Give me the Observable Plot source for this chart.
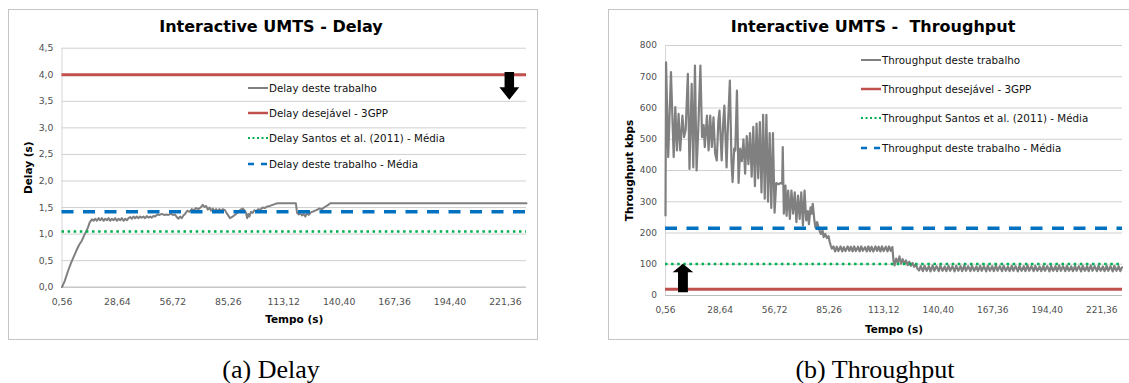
<!DOCTYPE html>
<html><head><meta charset="utf-8">
<script src="https://cdn.jsdelivr.net/npm/d3@7"></script>
<script src="https://cdn.jsdelivr.net/npm/@observablehq/plot@0.6"></script>
<style>
html,body{margin:0;padding:0;background:#fff}
body{width:1129px;height:383px;position:relative;overflow:hidden;font-family:"DejaVu Sans",Verdana,sans-serif}
.box{position:absolute;border:1px solid #c4c4c4;box-sizing:border-box;background:#fff}
.chart{position:absolute}
.title{position:absolute;font-weight:bold;font-size:16px;color:#000;white-space:pre;transform:translate(-50%,-50%)}
.caption{position:absolute;font-family:"Liberation Serif","Times New Roman",serif;font-size:26px;color:#000;white-space:pre;transform:translate(-50%,-50%)}
.lg{position:absolute;display:flex;align-items:center;height:14px;font-size:10.3px;color:#111;white-space:pre}
.lg svg{display:block}
</style>
</head><body>
<script>
// ---------- data ----------
const xTickCats = [0, 100, 200, 300, 400, 500, 600, 700, 800];
const xTickLabels = ["0,56", "28,64", "56,72", "85,26", "113,12", "140,40", "167,36", "194,40", "221,36"];
const delayTicks = [0, 0.5, 1, 1.5, 2, 2.5, 3, 3.5, 4, 4.5];
const throughputTicks = [0, 100, 200, 300, 400, 500, 600, 700, 800];

// Delay deste trabalho: [category index, delay (s)]
const delaySeries = [[0,0],[5,0.12],[11,0.31],[16,0.45],[21,0.57],[26,0.69],[31,0.80],[36,0.88],[41,1.00],[46,1.10],[50,1.22],[54,1.28],[57,1.25],[60,1.29],[63,1.25],[66,1.30],[69,1.26],[72,1.30],[75,1.25],[78,1.29],[81,1.26],[84,1.30],[87,1.25],[90,1.29],[93,1.26],[96,1.30],[99,1.25],[102,1.29],[105,1.26],[108,1.30],[111,1.25],[114,1.29],[117,1.26],[120,1.30],[123,1.32],[126,1.29],[129,1.33],[132,1.30],[135,1.33],[138,1.30],[141,1.33],[144,1.31],[147,1.33],[150,1.30],[153,1.34],[156,1.31],[159,1.33],[162,1.31],[165,1.34],[168,1.33],[172,1.37],[176,1.36],[180,1.38],[184,1.36],[188,1.37],[192,1.36],[196,1.38],[200,1.36],[204,1.37],[207,1.32],[210,1.29],[213,1.33],[216,1.30],[219,1.35],[222,1.38],[226,1.44],[230,1.42],[234,1.47],[238,1.45],[242,1.49],[246,1.47],[250,1.50],[254,1.55],[257,1.51],[260,1.53],[263,1.46],[266,1.50],[269,1.44],[272,1.48],[275,1.43],[278,1.47],[281,1.43],[284,1.47],[287,1.44],[290,1.47],[294,1.45],[298,1.38],[303,1.30],[308,1.33],[313,1.37],[318,1.42],[322,1.46],[326,1.48],[329,1.45],[332,1.40],[334,1.30],[336,1.38],[338,1.33],[341,1.42],[344,1.40],[347,1.45],[350,1.43],[354,1.47],[358,1.46],[362,1.50],[366,1.49],[370,1.52],[375,1.53],[380,1.55],[385,1.57],[390,1.58],[422,1.58],[424,1.40],[427,1.37],[430,1.39],[433,1.35],[436,1.38],[439,1.33],[442,1.40],[445,1.36],[449,1.41],[454,1.43],[459,1.45],[464,1.48],[469,1.47],[474,1.51],[479,1.54],[484,1.58],[838,1.58]];
const delay3GPP = 4.0;
const delaySantosMean = 1.05;
const delayThisMean = 1.42;

// Throughput deste trabalho: [category index, kbps]
const throughputSeries = [[0,256],[1,746],[5,443],[10,715],[15,443],[18,603],[21,464],[24,581],[27,464],[31,576],[34,507],[37,530],[41,709],[44,405],[48,677],[51,410],[54,736],[57,400],[60,528],[64,736],[67,507],[70,545],[72,475],[76,576],[79,464],[82,576],[85,475],[88,570],[91,455],[94,432],[97,560],[99,592],[103,432],[106,560],[108,608],[112,410],[114,520],[118,688],[121,430],[123,363],[126,470],[128,464],[131,656],[134,360],[137,470],[140,430],[143,500],[146,390],[149,510],[152,420],[155,520],[158,380],[161,540],[164,350],[167,550],[170,375],[173,555],[176,330],[179,578],[182,310],[185,578],[188,300],[191,520],[194,280],[197,520],[200,265],[203,360],[207,356],[211,360],[214,358],[215,475],[217,262],
[220,352],[222,255],[225,336],[228,245],[231,336],[234,262],[237,330],[240,235],[243,320],[246,245],[249,330],[252,224],[255,336],[258,240],[261,270],[263,228],[266,282],[268,262],[270,293],[273,240],[275,217],[278,235],[280,222],[283,205],[285,197],[288,208],[290,187],[293,197],[296,184],[299,190],[301,172],[303,160],[305,150],
[308,157],[311,141],[314,156],[317,142],[321,157],[324,141],[327,155],[330,142],[334,157],[337,143],[340,156],[343,141],[346,157],[349,142],[353,156],[356,141],[359,157],[362,143],[366,155],[369,141],[372,157],[375,142],[378,156],[381,141],[385,157],[388,143],[391,156],[394,141],[397,157],[400,142],[404,156],[407,141],[410,157],[413,143],[416,155],
[418,112],[420,96],[423,118],[426,105],[429,125],[432,102],[435,116],[438,101],[441,112],[444,97],[447,108],[450,95],[453,104],[456,92],[459,100],[462,86],[465,80],
[468,94],[472,78],[475,95],[479,79],[483,94],[486,77],[490,96],[493,79],[497,94],[501,78],[504,95],[508,79],[512,93],[515,78],[519,95],[522,79],[526,94],[530,77],[533,95],[537,79],[541,94],[544,78],[548,96],[551,79],[555,94],[559,78],[562,95],[566,79],[570,93],[573,78],[577,95],[580,79],[584,94],[588,77],[591,95],[595,79],[599,94],[602,78],[606,96],[609,79],[613,94],[617,78],[620,95],[624,79],[628,93],[631,78],[635,95],[638,79],[642,94],[646,77],[649,95],[653,79],[657,94],[660,78],[664,96],[667,79],[671,94],[675,78],[678,95],[682,79],[686,93],[689,78],[693,95],[696,79],[700,94],[704,77],[707,95],[711,79],[715,94],[718,78],[722,96],[725,79],[729,94],[733,78],[736,95],[740,79],[744,93],[747,78],[751,95],[754,79],[758,94],[762,77],[765,95],[769,79],[773,94],[776,78],[780,96],[783,79],[787,94],[791,78],[794,95],[798,79],[802,93],[805,78],[809,95],[812,79],[816,94],[820,77],[823,95],[827,79],[831,94],[834,78],[837,90]];
const throughput3GPP = 20;
const throughputSantosMean = 101;
const throughputThisMean = 215;

// annotation arrows: [category index, value]
const delayArrow = [[807, 3.79]];
const throughputArrow = [[32, 56]];

const delayLegend = ["Delay deste trabalho", "Delay desejável - 3GPP", "Delay Santos et al. (2011) - Média", "Delay deste trabalho - Média"];
const throughputLegend = ["Throughput deste trabalho", "Throughput desejável - 3GPP", "Throughput Santos et al. (2011) - Média", "Throughput deste trabalho - Média"];

// ---------- styles ----------
const C = {gray: "#808080", red: "#c0504d", green: "#00b050", blue: "#0070c0", grid: "#d0d0d0", tick: "#505050"};
const labelOf = new Map(xTickCats.map((c, i) => [c, xTickLabels[i]]));

function arrowSymbol(dir) {
  // block arrow; dir = 1 points down, -1 points up
  return {draw(ctx, size) {
    const r = Math.sqrt(size / Math.PI);
    const headStart = dir === 1 ? 0.09 : 0.41;
    const sw = 0.345 * r, hw = 0.72 * r;
    const hy = dir === 1 ? headStart * r : -headStart * r;
    const tail = -r * dir, tip = r * dir;
    ctx.moveTo(-sw, tail);
    ctx.lineTo(sw, tail);
    ctx.lineTo(sw, hy);
    ctx.lineTo(hw, hy);
    ctx.lineTo(0, tip);
    ctx.lineTo(-hw, hy);
    ctx.lineTo(-sw, hy);
    ctx.closePath();
  }};
}

function panel(o) {
  const box = document.createElement("div");
  box.className = "box";
  Object.assign(box.style, {left: o.box[0] + "px", top: o.box[1] + "px", width: o.box[2] + "px", height: o.box[3] + "px"});
  document.body.appendChild(box);

  const chart = Plot.plot({
    width: o.box[2], height: o.box[3],
    marginLeft: o.m[0], marginRight: o.m[1], marginTop: o.m[2], marginBottom: o.m[3],
    style: {background: "transparent", overflow: "visible", fontFamily: "DejaVu Sans, Verdana, sans-serif"},
    x: {domain: [0, 838]},
    y: {domain: o.yDomain},
    marks: [
      Plot.gridY(o.yTicks, {stroke: C.grid, strokeOpacity: 1, strokeWidth: 1}),
      Plot.ruleX([0], {stroke: "#d6d6d6", strokeWidth: 1}),
      Plot.ruleY([0], {stroke: "#bdbdbd", strokeWidth: 1}),
      Plot.axisY({ticks: o.yTicks, tickFormat: o.yFormat, tickSize: 0, tickPadding: 8.5, fontSize: o.tickFont, color: C.tick, label: null}),
      Plot.axisY({ticks: [], label: o.yLabel, labelAnchor: "center", labelArrow: "none", labelOffset: o.yLabelOffset, fontSize: 10.5, fontWeight: "bold", color: "#000"}),
      Plot.axisX({ticks: xTickCats, tickFormat: d => labelOf.get(d), tickSize: 0, tickPadding: 11.5, fontSize: o.tickFont, color: C.tick, label: null}),
      Plot.axisX({ticks: [], label: "Tempo (s)", labelAnchor: "center", labelArrow: "none", labelOffset: o.xLabelOffset, fontSize: 10.5, fontWeight: "bold", color: "#000"}),
      Plot.line(o.series, {x: d => d[0], y: d => d[1], stroke: C.gray, strokeWidth: o.lineW, curve: "linear"}),
      Plot.ruleY([o.req], {stroke: C.red, strokeWidth: 3}),
      Plot.ruleY([o.santos], {stroke: C.green, strokeWidth: 2.5, strokeDasharray: "2.5,3.6"}),
      Plot.ruleY([o.mean], {stroke: C.blue, strokeWidth: 3.5, strokeDasharray: "12,9.5"}),
      Plot.dot(o.arrow, {x: d => d[0], y: d => d[1], r: o.arrowR, symbol: arrowSymbol(o.arrowDir), fill: "#000", stroke: "none"})
    ]
  });
  chart.classList.add("chart");
  Object.assign(chart.style, {left: o.box[0] + "px", top: o.box[1] + "px"});
  document.body.appendChild(chart);

  const t = document.createElement("div");
  t.className = "title"; t.textContent = o.title;
  Object.assign(t.style, {left: o.titlePos[0] + "px", top: o.titlePos[1] + "px"});
  document.body.appendChild(t);

  const items = [
    {color: C.gray, w: 2, dash: ""},
    {color: C.red, w: 2.5, dash: ""},
    {color: C.green, w: 2, dash: "2,2.5"},
    {color: C.blue, w: 2.5, dash: "6,7"}
  ];
  o.legend.forEach((label, i) => {
    const d = document.createElement("div");
    d.className = "lg";
    Object.assign(d.style, {left: o.legendX + "px", top: (o.legendY[i] - 7) + "px"});
    const it = items[i];
    d.innerHTML = `<svg width="20" height="14"><line x1="0" x2="20" y1="7" y2="7" stroke="${it.color}" stroke-width="${it.w}" stroke-dasharray="${it.dash}"/></svg><span style="margin-left:1px">${label}</span>`;
    document.body.appendChild(d);
  });

  const cap = document.createElement("div");
  cap.className = "caption"; cap.textContent = o.caption;
  Object.assign(cap.style, {left: o.capPos[0] + "px", top: o.capPos[1] + "px"});
  document.body.appendChild(cap);
}

panel({
  box: [8, 9, 530, 331], m: [53.5, 12, 38.7, 53.3],
  yDomain: [0, 4.5], yTicks: delayTicks, yFormat: d => d.toFixed(1).replace(".", ","),
  tickFont: 9.3, yLabel: "Delay (s)", yLabelOffset: 37, xLabelOffset: 36, lineW: 2,
  series: delaySeries, req: delay3GPP, santos: delaySantosMean, mean: delayThisMean,
  arrow: delayArrow, arrowR: 13.8, arrowDir: 1,
  title: "Interactive UMTS - Delay", titlePos: [271, 26],
  legend: delayLegend, legendX: 248, legendY: [88, 113, 138, 164],
  caption: "(a) Delay", capPos: [271, 370]
});

panel({
  box: [608, 9, 530, 331], m: [57, 16, 36, 45],
  yDomain: [0, 800], yTicks: throughputTicks, yFormat: d => String(d),
  tickFont: 9, yLabel: "Throughput kbps", yLabelOffset: 39.5, xLabelOffset: 37, lineW: 2.2,
  series: throughputSeries, req: throughput3GPP, santos: throughputSantosMean, mean: throughputThisMean,
  arrow: throughputArrow, arrowR: 14.3, arrowDir: -1,
  title: "Interactive UMTS -  Throughput", titlePos: [873, 26],
  legend: throughputLegend, legendX: 861, legendY: [60, 89, 118, 148],
  caption: "(b) Throughput", capPos: [875, 370]
});
</script>
</body></html>
